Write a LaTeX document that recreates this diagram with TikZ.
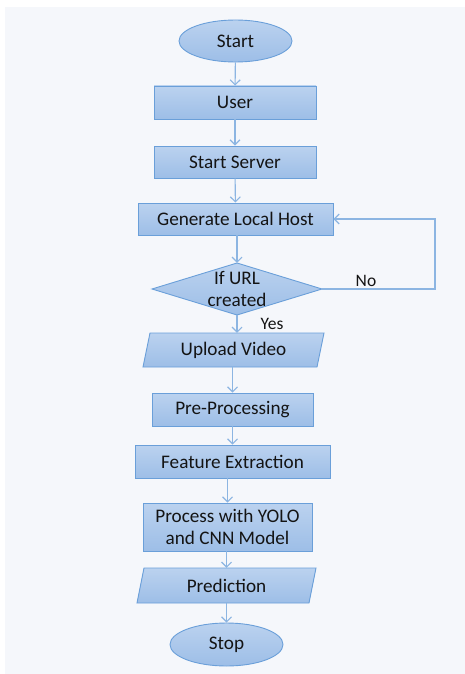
\documentclass[tikz,border=0pt]{standalone}
\usepackage{fontspec}
\setmainfont{Carlito}
\usetikzlibrary{arrows.meta,positioning}
\definecolor{panel}{HTML}{F5F7FB}
\definecolor{boxtop}{HTML}{BBD2EF}
\definecolor{boxbot}{HTML}{9DBEE7}
\definecolor{boxline}{HTML}{6A9FD9}
\definecolor{link}{HTML}{8CB5E2}
\definecolor{ink}{HTML}{141414}
\tikzset{
  x=1pt, y=-1pt,
  every node/.style={font=\fontsize{19.2}{22.5}\selectfont, text=ink},
  fillstyle/.style={top color=boxtop, bottom color=boxbot, draw=boxline, line width=0.9pt},
  procbox/.style={fillstyle, rectangle, inner sep=0pt, align=center},
  termbox/.style={fillstyle, ellipse, inner sep=0pt},
  anchorbox/.style={rectangle, inner sep=0pt, align=center},
  flow/.style={draw=link, line width=1.1pt, -{Straight Barb[length=5pt,width=10pt,line width=1.1pt]}},
  lbl/.style={font=\fontsize{17.5}{20}\selectfont}
}
\usetikzlibrary{shapes.geometric}
\begin{document}
\begin{tikzpicture}
% page and panel
\useasboundingbox (0,0) rectangle (465,674);
\fill[white] (0,0) rectangle (465,674);
\fill[panel] (5,7) rectangle (465,674);

% terminals and process steps
\node[termbox, minimum width=113pt, minimum height=42pt] (start) at (235.5,41) {Start};
\node[procbox, minimum width=162pt, minimum height=33pt] (user) at (235,102.5) {User};
\node[procbox, minimum width=162pt, minimum height=32pt] (server) at (235,162) {Start Server};
\node[procbox, minimum width=195pt, minimum height=32pt] (host) at (235.5,219) {Generate Local Host};

% decision
\path[fillstyle] (152,289) -- (237,263) -- (322,289) -- (237,315) -- cycle;
\node[anchorbox, minimum width=170pt, minimum height=52pt] (url) at (237,289) {If URL\\created};

% input: upload
\path[fillstyle] (143,367) -- (150,333) -- (324,333) -- (317,367) -- cycle;
\node[anchorbox, minimum width=174pt, minimum height=34pt] (upload) at (233.5,350) {Upload Video};

\node[procbox, minimum width=161pt, minimum height=33pt] (pre) at (232.5,409.5) {Pre-Processing};
\node[procbox, minimum width=195pt, minimum height=33pt] (feat) at (232.5,461.5) {Feature Extraction};
\node[procbox, minimum width=169pt, minimum height=48pt] (yolo) at (227.5,527) {Process with YOLO\\and CNN Model};

% output: prediction
\path[fillstyle] (137,603) -- (144,568) -- (316,568) -- (309,603) -- cycle;
\node[anchorbox, minimum width=172pt, minimum height=35pt] (pred) at (226.5,585.5) {Prediction};

\node[termbox, minimum width=113pt, minimum height=43pt] (stop) at (226.5,644.5) {Stop};

% connectors
\draw[flow] (start) -- (user);
\draw[flow] (user) -- (server);
\draw[flow] (server) -- (host);
\draw[flow] (host.south -| url.north) -- (url.north);
\draw[flow] (url.south) -- (upload.north -| url.south);
\draw[flow] (upload.south -| pre.north) -- (pre.north);
\draw[flow] (pre) -- (feat);
\draw[flow] (feat.south -| yolo.north) -- (yolo.north);
\draw[flow] (yolo.south -| pred.north) -- (pred.north);
\draw[flow] (pred) -- (stop);
\coordinate (loop) at (435,289);
\draw[flow] (url.east) -- (loop) |- (host.east);

% branch labels
\node[lbl] (no) at (366,281) {No};
\node[lbl] (yes) at (272,324) {Yes};
\end{tikzpicture}
\end{document}
